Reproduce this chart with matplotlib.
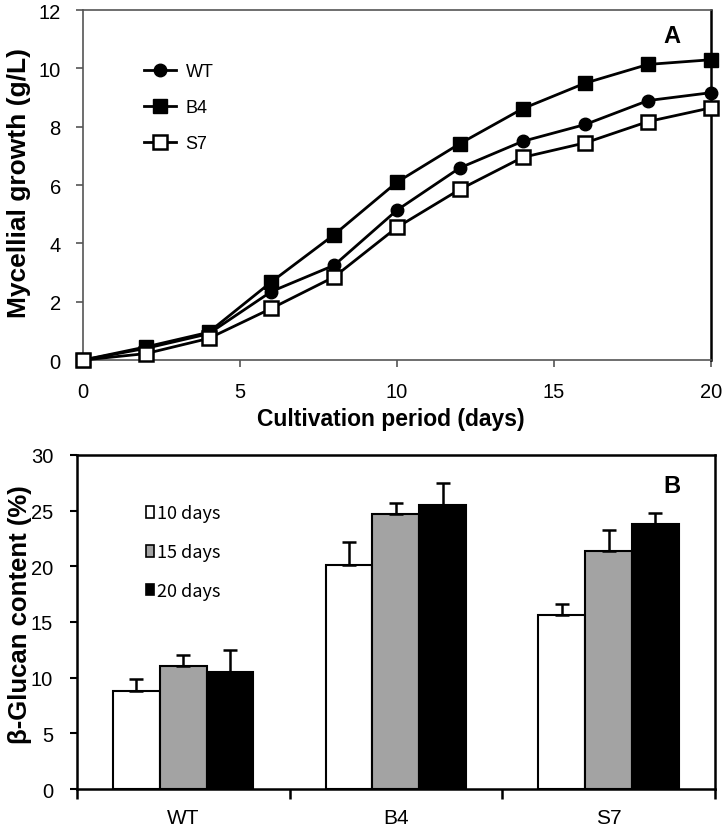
import numpy as np
from matplotlib import pyplot as plt
from matplotlib.patches import Patch

plt.rcParams['font.family'] = ['Liberation Sans', 'DejaVu Sans']

# panel A: mycelial growth
days = [0, 2, 4, 6, 8, 10, 12, 14, 16, 18, 20]
growth_wt = [0.0, 0.40, 0.90, 2.35, 3.25, 5.14, 6.59, 7.50, 8.08, 8.90, 9.17]
growth_b4 = [0.0, 0.45, 0.95, 2.68, 4.30, 6.10, 7.42, 8.62, 9.50, 10.14, 10.30]
growth_s7 = [0.0, 0.22, 0.74, 1.77, 2.85, 4.55, 5.85, 6.95, 7.45, 8.18, 8.65]

# panel B: beta-glucan content
strains = ['WT', 'B4', 'S7']
periods = ['10 days', '15 days', '20 days']
glucan_10 = [8.77, 20.12, 15.60]
glucan_15 = [11.02, 24.74, 21.35]
glucan_20 = [10.54, 25.50, 23.78]
err_10 = [1.10, 2.04, 1.04]
err_15 = [1.02, 0.96, 1.95]
err_20 = [1.98, 1.95, 1.05]


def main():
    fig = plt.figure(figsize=(7.25, 8.29), dpi=100)

    # ---- A ----
    ax1 = fig.add_axes([0.1145, 0.5645, 0.866, 0.422])
    ax1.plot(days, growth_wt, '-o', color='black', lw=2, ms=9, mfc='black', mec='black',
             label='WT', clip_on=False, zorder=3)
    ax1.plot(days, growth_b4, '-s', color='black', lw=2, ms=9.5, mfc='black', mec='black',
             label='B4', clip_on=False, zorder=3)
    ax1.plot(days, growth_s7, '-s', color='black', lw=2, ms=9.5, mfc='white', mec='black', mew=1.8,
             label='S7', clip_on=False, zorder=4)
    ax1.set_xlim(0, 20)
    ax1.set_ylim(0, 12)
    ax1.set_xticks([0, 5, 10, 15, 20])
    ax1.set_yticks(range(0, 13, 2))
    for side in ('left', 'top', 'bottom'):
        ax1.spines[side].set_color('#555555')
        ax1.spines[side].set_linewidth(1.2)
    ax1.spines['right'].set_color('black')
    ax1.spines['right'].set_linewidth(1.8)
    ax1.tick_params(direction='out', length=5, width=1.2, color='#555555', labelsize=14.5, pad=11)
    ax1.set_xlabel('Cultivation period (days)', fontsize=16.5, fontweight='bold')
    ax1.xaxis.label.set_va('center')
    ax1.xaxis.set_label_coords(0.49, -0.166)
    ax1.set_ylabel('Mycellial growth (g/L)', fontsize=19, fontweight='bold')
    ax1.yaxis.label.set_va('center')
    ax1.yaxis.set_label_coords(-0.102, 0.51)
    ax1.text(18.76, 11.14, 'A', fontsize=17, fontweight='bold', ha='center', va='center')
    ax1.legend(loc='upper left', bbox_to_anchor=(0.097, 0.848), frameon=False,
               fontsize=13, handlelength=1.8, handletextpad=0.5, labelspacing=1.05,
               borderpad=0, borderaxespad=0)

    # ---- B ----
    ax2 = fig.add_axes([0.106, 0.047, 0.880, 0.403])
    x = np.arange(len(strains))
    w = 0.22
    kw = dict(edgecolor='black', linewidth=1.5, zorder=3)
    ekw = dict(elinewidth=1.8, capthick=1.8)
    ax2.bar(x - w, glucan_10, w, color='white', yerr=[[0] * 3, err_10], capsize=5, error_kw=ekw, **kw)
    ax2.bar(x, glucan_15, w, color='#a3a3a3', yerr=[[0] * 3, err_15], capsize=5, error_kw=ekw, **kw)
    ax2.bar(x + w, glucan_20, w, color='black', yerr=[[0] * 3, err_20], capsize=5, error_kw=ekw, **kw)
    ax2.set_xlim(-0.5, 2.5)
    ax2.set_ylim(0, 30)
    ax2.set_yticks(range(0, 31, 5))
    ax2.set_xticks([-0.5, 0.5, 1.5, 2.5])
    ax2.set_xticklabels([])
    ax2.set_xticks(x, minor=True)
    ax2.set_xticklabels(strains, minor=True)
    for side in ax2.spines.values():
        side.set_color('black')
        side.set_linewidth(1.8)
    ax2.tick_params(direction='out', length=5, width=1.5, labelsize=14.5, pad=12)
    ax2.tick_params(axis='x', which='major', length=7, width=1.8)
    ax2.tick_params(axis='x', which='minor', length=0, labelsize=15, pad=14)
    ax2.set_ylabel('\u03b2-Glucan content (%)', fontsize=18.5, fontweight='bold')
    ax2.yaxis.label.set_va('center')
    ax2.yaxis.set_label_coords(-0.089, 0.525)
    ax2.text(2.298, 27.3, 'B', fontsize=17, fontweight='bold', ha='center', va='center')
    handles = [Patch(facecolor=c, edgecolor='black', linewidth=1.2) for c in ('white', '#a3a3a3', 'black')]
    ax2.legend(handles, periods, loc='upper left', bbox_to_anchor=(0.108, 0.852), frameon=False,
               prop={'family': ['Noto Sans CJK KR', 'DejaVu Sans'], 'size': 13},
               handlelength=0.45, handleheight=0.6, handletextpad=0.2, labelspacing=1.15,
               borderpad=0, borderaxespad=0)

    plt.savefig('out.png', dpi=100)


if __name__ == '__main__':
    main()
